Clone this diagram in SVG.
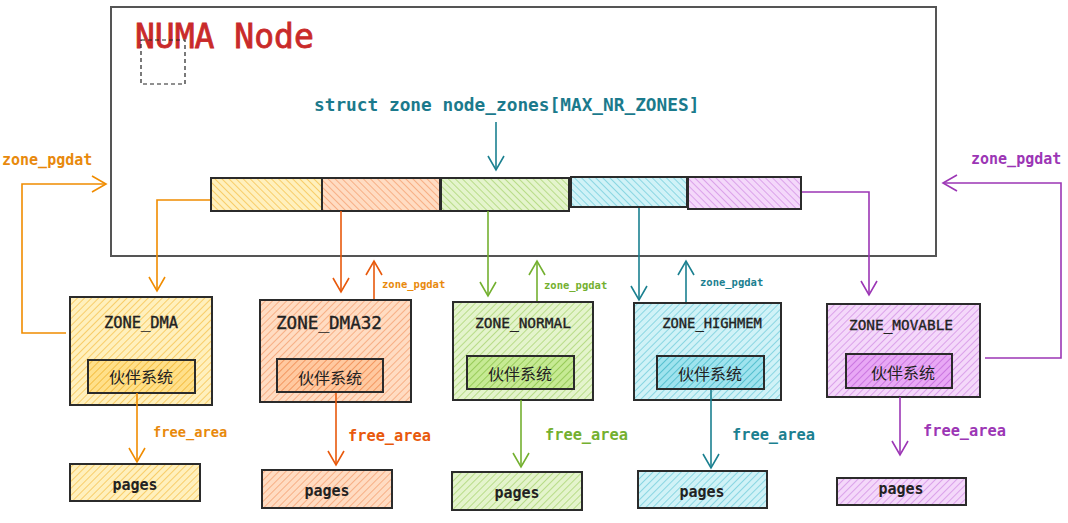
<svg xmlns="http://www.w3.org/2000/svg" width="1068" height="523" viewBox="0 0 1068 523">
<style>
.mono{font-family:"DejaVu Sans Mono","Liberation Mono",monospace}
.cjk{font-family:"Noto Sans CJK SC","Noto Sans",sans-serif}
.box{stroke:#2b2b2b;stroke-width:2}
.ln{fill:none;stroke-width:1.6}
.lbl{fill:#222;text-anchor:middle;stroke:#222;stroke-width:0.35}
.pg{font-size:15px;font-weight:bold;fill:#222;text-anchor:middle}
</style>
<defs>
<pattern id="hY" width="5" height="5" patternUnits="userSpaceOnUse" patternTransform="rotate(45)"><rect width="5" height="5" fill="#fff0bd"/><line x1="0" y1="0" x2="0" y2="5" stroke="#f5bf45" stroke-width="1.4"/></pattern>
<pattern id="hO" width="5" height="5" patternUnits="userSpaceOnUse" patternTransform="rotate(45)"><rect width="5" height="5" fill="#ffdcc2"/><line x1="0" y1="0" x2="0" y2="5" stroke="#f49c6a" stroke-width="1.4"/></pattern>
<pattern id="hG" width="5" height="5" patternUnits="userSpaceOnUse" patternTransform="rotate(45)"><rect width="5" height="5" fill="#e4f4cc"/><line x1="0" y1="0" x2="0" y2="5" stroke="#a6d26a" stroke-width="1.4"/></pattern>
<pattern id="hC" width="5" height="5" patternUnits="userSpaceOnUse" patternTransform="rotate(45)"><rect width="5" height="5" fill="#d0f2f7"/><line x1="0" y1="0" x2="0" y2="5" stroke="#6ccbd9" stroke-width="1.4"/></pattern>
<pattern id="hP" width="5" height="5" patternUnits="userSpaceOnUse" patternTransform="rotate(45)"><rect width="5" height="5" fill="#f4d8fa"/><line x1="0" y1="0" x2="0" y2="5" stroke="#d08be4" stroke-width="1.4"/></pattern>
<pattern id="rY" href="#hY" patternTransform="rotate(-45)"/>
<pattern id="rO" href="#hO" patternTransform="rotate(-45)"/>
<pattern id="rG" href="#hG" patternTransform="rotate(-45)"/>
<pattern id="rC" href="#hC" patternTransform="rotate(-45)"/>
<pattern id="rP" href="#hP" patternTransform="rotate(-45)"/>
<pattern id="dY" width="5" height="5" patternUnits="userSpaceOnUse" patternTransform="rotate(45)"><rect width="5" height="5" fill="#ffe08a"/><line x1="0" y1="0" x2="0" y2="5" stroke="#f2b530" stroke-width="1.6"/></pattern>
<pattern id="dO" width="5" height="5" patternUnits="userSpaceOnUse" patternTransform="rotate(45)"><rect width="5" height="5" fill="#ffc9a0"/><line x1="0" y1="0" x2="0" y2="5" stroke="#f08a50" stroke-width="1.6"/></pattern>
<pattern id="dG" width="5" height="5" patternUnits="userSpaceOnUse" patternTransform="rotate(45)"><rect width="5" height="5" fill="#c6ea94"/><line x1="0" y1="0" x2="0" y2="5" stroke="#8cc44a" stroke-width="1.6"/></pattern>
<pattern id="dC" width="5" height="5" patternUnits="userSpaceOnUse" patternTransform="rotate(45)"><rect width="5" height="5" fill="#9fe3ee"/><line x1="0" y1="0" x2="0" y2="5" stroke="#45b8c9" stroke-width="1.6"/></pattern>
<pattern id="dP" width="5" height="5" patternUnits="userSpaceOnUse" patternTransform="rotate(45)"><rect width="5" height="5" fill="#e8a8f5"/><line x1="0" y1="0" x2="0" y2="5" stroke="#c46bdc" stroke-width="1.6"/></pattern>
<marker id="aY" markerUnits="userSpaceOnUse" markerWidth="30" markerHeight="30" refX="15" refY="15" orient="auto" overflow="visible"><path d="M1,7 L15,15 L1,23" fill="none" stroke="#f08c00" stroke-width="1.6"/></marker>
<marker id="aO" markerUnits="userSpaceOnUse" markerWidth="30" markerHeight="30" refX="15" refY="15" orient="auto" overflow="visible"><path d="M1,7 L15,15 L1,23" fill="none" stroke="#e8590c" stroke-width="1.6"/></marker>
<marker id="aG" markerUnits="userSpaceOnUse" markerWidth="30" markerHeight="30" refX="15" refY="15" orient="auto" overflow="visible"><path d="M1,7 L15,15 L1,23" fill="none" stroke="#74b030" stroke-width="1.6"/></marker>
<marker id="aC" markerUnits="userSpaceOnUse" markerWidth="30" markerHeight="30" refX="15" refY="15" orient="auto" overflow="visible"><path d="M1,7 L15,15 L1,23" fill="none" stroke="#1b8090" stroke-width="1.6"/></marker>
<marker id="aP" markerUnits="userSpaceOnUse" markerWidth="30" markerHeight="30" refX="15" refY="15" orient="auto" overflow="visible"><path d="M1,7 L15,15 L1,23" fill="none" stroke="#9c36b5" stroke-width="1.6"/></marker>
</defs>
<rect width="1068" height="523" fill="#ffffff"/>

<g id="numa-node">
<rect x="111" y="7" width="825" height="249" fill="none" stroke="#555" stroke-width="2"/>
<text x="135" y="48" class="mono" font-size="33" fill="#c92a2a" stroke="#c92a2a" stroke-width="0.8">NUMA Node</text>
<rect x="141" y="40" width="44" height="44" fill="none" stroke="#222" stroke-width="1.2" stroke-dasharray="4,3"/>
<text x="314" y="111" class="mono" font-size="17.8" font-weight="bold" fill="#1b7a8c">struct zone node_zones[MAX_NR_ZONES]</text>
</g>

<g id="node-zones-array">
<rect x="211" y="178" width="111" height="33" fill="url(#rY)" class="box"/>
<rect x="322" y="178" width="118" height="33" fill="url(#rO)" class="box"/>
<rect x="441" y="178" width="128" height="33" fill="url(#rG)" class="box"/>
<rect x="571" y="177" width="116" height="30" fill="url(#rC)" class="box"/>
<rect x="688" y="177" width="113" height="32" fill="url(#rP)" class="box"/>
</g>

<g id="zone-dma">
<rect x="70" y="297" width="142" height="108" fill="url(#hY)" class="box"/>
<text x="141" y="328" class="mono lbl" font-size="15.4">ZONE_DMA</text>
<rect x="88" y="360" width="107" height="33" fill="url(#dY)" class="box"/>
<text x="141" y="383" class="cjk" font-size="16" fill="#222" text-anchor="middle">伙伴系统</text>
</g>
<g id="pages-dma">
<rect x="70" y="464" width="130" height="37" fill="url(#hY)" class="box"/>
<text x="135" y="490" class="mono pg">pages</text>
</g>

<g id="zone-dma32">
<rect x="260" y="300" width="151" height="102" fill="url(#hO)" class="box"/>
<text x="329" y="329" class="mono lbl" font-size="17.6">ZONE_DMA32</text>
<rect x="277" y="359" width="106" height="33" fill="url(#dO)" class="box"/>
<text x="330" y="384" class="cjk" font-size="16" fill="#222" text-anchor="middle">伙伴系统</text>
</g>
<g id="pages-dma32">
<rect x="262" y="470" width="130" height="38" fill="url(#hO)" class="box"/>
<text x="327" y="496" class="mono pg">pages</text>
</g>

<g id="zone-normal">
<rect x="453" y="302" width="140" height="98" fill="url(#hG)" class="box"/>
<text x="523" y="328" class="mono lbl" font-size="14.5">ZONE_NORMAL</text>
<rect x="467" y="356" width="107" height="33" fill="url(#dG)" class="box"/>
<text x="520" y="380" class="cjk" font-size="16" fill="#222" text-anchor="middle">伙伴系统</text>
</g>
<g id="pages-normal">
<rect x="452" y="472" width="130" height="38" fill="url(#hG)" class="box"/>
<text x="517" y="498" class="mono pg">pages</text>
</g>

<g id="zone-highmem">
<rect x="634" y="303" width="147" height="97" fill="url(#hC)" class="box"/>
<text x="712" y="328" class="mono lbl" font-size="13.8">ZONE_HIGHMEM</text>
<rect x="657" y="356" width="107" height="33" fill="url(#dC)" class="box"/>
<text x="710" y="380" class="cjk" font-size="16" fill="#222" text-anchor="middle">伙伴系统</text>
</g>
<g id="pages-highmem">
<rect x="638" y="471" width="129" height="37" fill="url(#hC)" class="box"/>
<text x="702" y="497" class="mono pg">pages</text>
</g>

<g id="zone-movable">
<rect x="827" y="304" width="153" height="93" fill="url(#hP)" class="box"/>
<text x="901" y="330" class="mono lbl" font-size="14.4">ZONE_MOVABLE</text>
<rect x="846" y="354" width="106" height="34" fill="url(#dP)" class="box"/>
<text x="903" y="379" class="cjk" font-size="16" fill="#222" text-anchor="middle">伙伴系统</text>
</g>
<g id="pages-movable">
<rect x="837" y="478" width="129" height="27" fill="url(#hP)" class="box"/>
<text x="901" y="494" class="mono pg">pages</text>
</g>

<g id="connectors">
<path d="M496,122 L496,170" class="ln" stroke="#1b8090" marker-end="url(#aC)"/>
<path d="M66,333 L22,333 L22,184 L106,184" class="ln" stroke="#f08c00" marker-end="url(#aY)"/>
<path d="M210,200 L157,200 L157,291" class="ln" stroke="#f08c00" marker-end="url(#aY)"/>
<path d="M137,393 L137,462" class="ln" stroke="#f08c00" marker-end="url(#aY)"/>
<path d="M341,211 L341,292" class="ln" stroke="#e8590c" marker-end="url(#aO)"/>
<path d="M374,299 L374,261" class="ln" stroke="#e8590c" marker-end="url(#aO)"/>
<path d="M336,393 L336,465" class="ln" stroke="#e8590c" marker-end="url(#aO)"/>
<path d="M488,211 L488,296" class="ln" stroke="#74b030" marker-end="url(#aG)"/>
<path d="M537,301 L537,261" class="ln" stroke="#74b030" marker-end="url(#aG)"/>
<path d="M521,400 L521,467" class="ln" stroke="#74b030" marker-end="url(#aG)"/>
<path d="M639,208 L639,300" class="ln" stroke="#1b8090" marker-end="url(#aC)"/>
<path d="M686,302 L686,261" class="ln" stroke="#1b8090" marker-end="url(#aC)"/>
<path d="M711,390 L711,468" class="ln" stroke="#1b8090" marker-end="url(#aC)"/>
<path d="M802,192 L869,192 L869,295" class="ln" stroke="#9c36b5" marker-end="url(#aP)"/>
<path d="M985,358 L1061,358 L1061,183 L943,183" class="ln" stroke="#9c36b5" marker-end="url(#aP)"/>
<path d="M900,397 L900,455" class="ln" stroke="#9c36b5" marker-end="url(#aP)"/>
</g>

<g id="labels" class="mono" font-weight="bold">
<text x="2" y="165" font-size="15" fill="#e8890c">zone_pgdat</text>
<text x="971" y="164" font-size="15" fill="#9c36b5">zone_pgdat</text>
<text x="382" y="288" font-size="10.5" fill="#e8890c">zone_pgdat</text>
<text x="544" y="289" font-size="10.5" fill="#74b030">zone_pgdat</text>
<text x="700" y="286" font-size="10.5" fill="#1b8090">zone_pgdat</text>
<text x="153" y="437" font-size="13.7" fill="#e8890c">free_area</text>
<text x="348" y="441" font-size="15.3" fill="#e8590c">free_area</text>
<text x="545" y="440" font-size="15.3" fill="#74b030">free_area</text>
<text x="732" y="440" font-size="15.3" fill="#1b8090">free_area</text>
<text x="923" y="436" font-size="15.3" fill="#9c36b5">free_area</text>
</g>
</svg>
